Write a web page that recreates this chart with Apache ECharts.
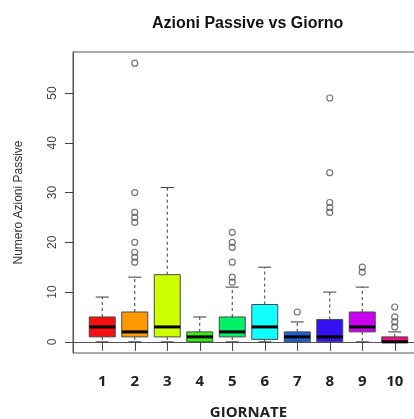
<!DOCTYPE html>
<html>
<head>
<meta charset="utf-8">
<script src="https://cdn.jsdelivr.net/npm/echarts@6/dist/echarts.min.js"></script>
<style>
html,body{margin:0;padding:0;background:#fff;overflow:hidden;}
#c{width:414px;height:419px;}
</style>
</head>
<body>
<div id="c"></div>
<script>
// ---- data ----
const categories = ['1','2','3','4','5','6','7','8','9','10'];
const mins    = [0, 0, 0,    0, 0,  0,   0, 0,   0, 0];
const q1s     = [1, 1, 1,    0, 1,  0.5, 0, 0,   2, 0];
const medians = [3, 2, 3,    1, 2,  3,   1, 1,   3, 0];
const q3s     = [5, 6, 13.5, 2, 5,  7.5, 2, 4.5, 6, 1];
const maxs    = [9, 13, 31,  5, 11, 15,  4, 10,  11, 2];
const outliers = [
  [],
  [56, 30, 26, 25, 24, 20, 18, 17, 16],
  [],
  [],
  [22, 20, 19, 16, 13, 12],
  [],
  [6],
  [49, 34, 28, 27, 26],
  [15, 14],
  [7, 5, 4, 3]
];
const yTicks = [0, 10, 20, 30, 40, 50];
const xTicks = [1, 2, 3, 4, 5, 6, 7, 8, 9, 10];

// ---- styles ----
const palette = ['#f21010','#ff9900','#ccff00','#33ee11','#00f066','#11ffff','#1a60d8','#3311f0','#cc00f0','#e81080'];

const boxData = categories.map((c, i) => [i + 1, mins[i], q1s[i], medians[i], q3s[i], maxs[i]]);
const outData = [];
outliers.forEach((arr, i) => arr.forEach(v => outData.push([i + 1, v])));

function renderBox(params, api) {
  const x = api.value(0);
  const lo = api.value(1), q1 = api.value(2), med = api.value(3), q3 = api.value(4), hi = api.value(5);
  const w = api.size([0.8, 0])[0];
  const pLo = api.coord([x, lo]);
  const pQ1 = api.coord([x, q1]);
  const pMed = api.coord([x, med]);
  const pQ3 = api.coord([x, q3]);
  const pHi = api.coord([x, hi]);
  const cx = pMed[0];
  const wc = '#3a3a3a';
  return {
    type: 'group',
    children: [
      { type: 'line', shape: { x1: cx, y1: pQ3[1], x2: cx, y2: pHi[1] }, style: { stroke: wc, lineWidth: 1, lineDash: [3, 3] } },
      { type: 'line', shape: { x1: cx, y1: pQ1[1], x2: cx, y2: pLo[1] }, style: { stroke: wc, lineWidth: 1, lineDash: [3, 3] } },
      { type: 'line', shape: { x1: cx - w / 4, y1: pHi[1], x2: cx + w / 4, y2: pHi[1] }, style: { stroke: wc, lineWidth: 1 } },
      { type: 'line', shape: { x1: cx - w / 4, y1: pLo[1], x2: cx + w / 4, y2: pLo[1] }, style: { stroke: wc, lineWidth: 1 } },
      { type: 'rect', shape: { x: cx - w / 2, y: pQ3[1], width: w, height: pQ1[1] - pQ3[1] }, style: { fill: palette[params.dataIndex], stroke: '#4a4a4a', lineWidth: 1 } },
      { type: 'line', shape: { x1: cx - w / 2, y1: pMed[1], x2: cx + w / 2, y2: pMed[1] }, style: { stroke: '#000', lineWidth: 3 } }
    ]
  };
}

const chart = echarts.init(document.getElementById('c'));
chart.setOption({
  animation: false,
  backgroundColor: '#fff',
  title: {
    text: 'Azioni Passive vs Giorno',
    left: 147, top: 11,
    textStyle: { fontFamily: 'Liberation Sans, Arial, sans-serif', fontWeight: 'bold', fontSize: 16, color: '#111' }
  },
  grid: { left: 73, top: 52, width: 351, bottom: 66, show: true, borderColor: '#555', borderWidth: 1, outerBoundsMode: 'none', containLabel: false },
  xAxis: {
    type: 'value', min: 0.1, max: 10.9,
    name: 'GIORNATE', nameLocation: 'middle', nameGap: 52,
    nameTextStyle: { fontFamily: 'Open Sans, sans-serif', fontWeight: 'bold', fontSize: 15, color: '#222' },
    axisLine: { show: true, lineStyle: { color: '#555' } },
    axisTick: { show: true, length: 9, customValues: xTicks, lineStyle: { color: '#444' } },
    axisLabel: {
      customValues: xTicks, margin: 21,
      formatter: v => categories[Math.round(v) - 1],
      fontFamily: 'Open Sans, sans-serif', fontWeight: 'bold', fontSize: 15, color: '#222'
    },
    splitLine: { show: false }
  },
  yAxis: {
    type: 'value', min: -2.24, max: 58.24,
    name: 'Numero Azioni Passive', nameLocation: 'middle', nameGap: 48,
    nameTextStyle: { fontFamily: 'Liberation Sans, Arial, sans-serif', fontSize: 12, color: '#333' },
    axisLine: { show: true, lineStyle: { color: '#555' } },
    axisTick: { show: true, length: 8, customValues: yTicks, lineStyle: { color: '#444' } },
    axisLabel: {
      customValues: yTicks, rotate: 90, margin: 14,
      fontFamily: 'Liberation Sans, Arial, sans-serif', fontSize: 12, color: '#444'
    },
    splitLine: { show: false }
  },
  series: [
    {
      type: 'custom',
      renderItem: renderBox,
      data: boxData,
      encode: { x: 0, y: [1, 2, 3, 4, 5] },
      clip: false
    },
    {
      type: 'scatter',
      data: outData,
      symbol: 'circle',
      symbolSize: 6,
      itemStyle: { color: 'rgba(0,0,0,0)', borderColor: '#555', borderWidth: 1.2 },
      z: 3
    }
  ]
});
</script>
</body>
</html>
